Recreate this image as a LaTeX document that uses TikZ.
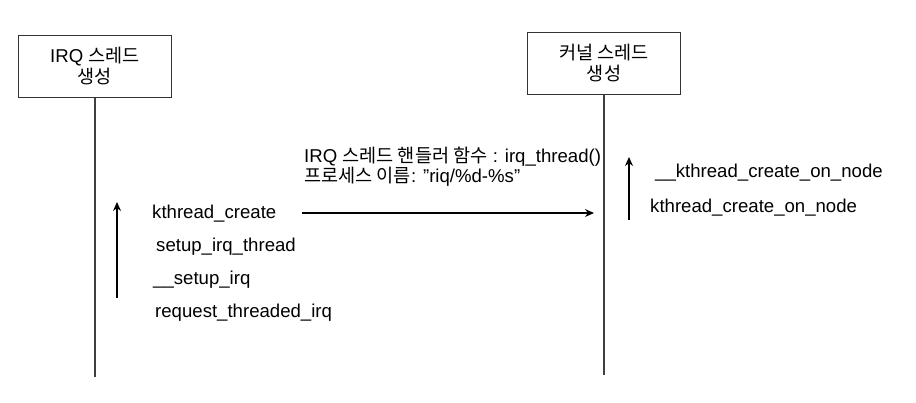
\documentclass[tikz,border=0pt]{standalone}
\usepackage{fontspec}
\setmainfont{Liberation Sans}
\newfontfamily\kr{Noto Sans CJK KR}
\usetikzlibrary{arrows.meta}
\begin{document}
\begin{tikzpicture}[x=1pt,y=-1pt,
  lifebox/.style={draw=black!80,line width=1.3pt,minimum width=153pt,minimum height=62pt,inner sep=0pt,align=center,font=\fontsize{18.6}{21}\selectfont},
  lifeline/.style={draw=black!75,line width=1.3pt},
  callarrow/.style={draw=black,line width=1.3pt,-{Stealth[length=9pt,width=8pt]}},
  lbl/.style={anchor=base west,inner sep=0pt,font=\fontsize{18.6}{20}\selectfont}]
\useasboundingbox (0,0) rectangle (916,403);
% boxes
\node[lifebox] (lbox) at (95,66.5) {IRQ {\kr 스레드}\\{\kr 생성}};
\node[lifebox] (rbox) at (604,63.5) {{\kr 커널 스레드}\\{\kr 생성}};
% lifelines
\coordinate (lend) at (95,377);
\coordinate (rend) at (604,375);
\draw[lifeline] (lbox.south) -- (lend);
\draw[lifeline] (rbox.south) -- (rend);
% left call stack
\coordinate (lupa) at (117,298);
\coordinate (lupb) at (117,202);
\draw[callarrow] (lupa) -- (lupb);
\node[lbl] (kc) at (152,219) {kthread\_create};
\node[lbl] (sit) at (156,252) {setup\_irq\_thread};
\node[lbl] (si) at (153,285) {\_\_setup\_irq};
\node[lbl] (rti) at (155,318) {request\_threaded\_irq};
% call to kernel thread
\coordinate (ha) at (302,213);
\coordinate (hb) at (594,213);
\draw[callarrow] (ha) -- (hb);
\node[lbl] (hl1) at (304,163) {IRQ {\kr 스레드 핸들러 함수} : irq\_thread()};
\node[lbl] (hl2) at (304,183) {{\kr 프로세스 이름}: \symbol{34}riq/\%d-\%s\symbol{34}};
% right call stack
\coordinate (rupa) at (629,220);
\coordinate (rupb) at (629,157);
\draw[callarrow] (rupa) -- (rupb);
\node[lbl] (kcon2) at (655,178) {\_\_kthread\_create\_on\_node};
\node[lbl] (kcon) at (650,213) {kthread\_create\_on\_node};
\end{tikzpicture}
\end{document}
